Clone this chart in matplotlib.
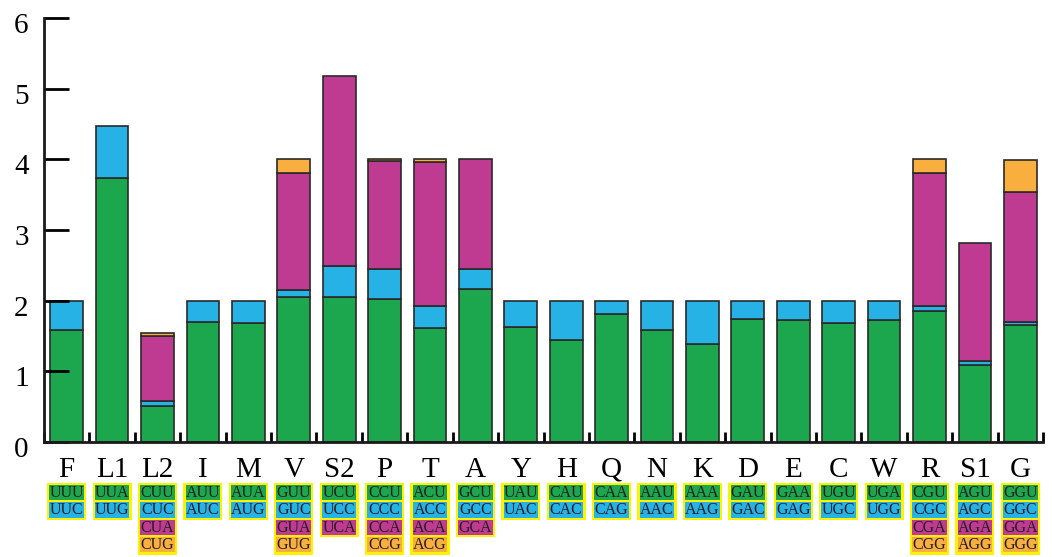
import numpy as np
import matplotlib.pyplot as plt
from matplotlib.patches import Rectangle
from matplotlib.transforms import blended_transform_factory, ScaledTranslation

plt.rcParams['font.family'] = ['Liberation Serif', 'DejaVu Serif']

amino = ['F', 'L1', 'L2', 'I', 'M', 'V', 'S2', 'P', 'T', 'A', 'Y', 'H',
         'Q', 'N', 'K', 'D', 'E', 'C', 'W', 'R', 'S1', 'G']

# stacked segments, one value per amino acid (bottom to top)
green = [1.59, 3.73, 0.51, 1.70, 1.69, 2.05, 2.05, 2.03, 1.62, 2.17, 1.63, 1.45,
         1.81, 1.58, 1.39, 1.74, 1.72, 1.69, 1.72, 1.86, 1.09, 1.65]
blue = [0.41, 0.74, 0.07, 0.30, 0.31, 0.10, 0.44, 0.42, 0.31, 0.28, 0.37, 0.55,
        0.19, 0.42, 0.61, 0.26, 0.28, 0.31, 0.28, 0.07, 0.06, 0.05]
magenta = [0, 0, 0.92, 0, 0, 1.65, 2.69, 1.52, 2.03, 1.55, 0, 0,
           0, 0, 0, 0, 0, 0, 0, 1.87, 1.67, 1.84]
orange = [0, 0, 0.04, 0, 0, 0.20, 0, 0.03, 0.04, 0, 0, 0,
          0, 0, 0, 0, 0, 0, 0, 0.20, 0, 0.45]

codons = [
    ['UUU', 'UUC'], ['UUA', 'UUG'], ['CUU', 'CUC', 'CUA', 'CUG'],
    ['AUU', 'AUC'], ['AUA', 'AUG'], ['GUU', 'GUC', 'GUA', 'GUG'],
    ['UCU', 'UCC', 'UCA'], ['CCU', 'CCC', 'CCA', 'CCG'],
    ['ACU', 'ACC', 'ACA', 'ACG'], ['GCU', 'GCC', 'GCA'],
    ['UAU', 'UAC'], ['CAU', 'CAC'], ['CAA', 'CAG'], ['AAU', 'AAC'],
    ['AAA', 'AAG'], ['GAU', 'GAC'], ['GAA', 'GAG'], ['UGU', 'UGC'],
    ['UGA', 'UGG'], ['CGU', 'CGC', 'CGA', 'CGG'],
    ['AGU', 'AGC', 'AGA', 'AGG'], ['GGU', 'GGC', 'GGA', 'GGG'],
]

colors = ['#1ca64d', '#27b2e6', '#bf3b91', '#f9ae40']
yellow = '#fff200'

W, H = 1052, 557
fig = plt.figure(figsize=(W / 100, H / 100), dpi=100)
ax = fig.add_axes([44 / W, 115 / H, 999 / W, 424 / H])

x = np.arange(len(amino))
bottom = np.zeros(len(amino))
for vals, col in zip([green, blue, magenta, orange], colors):
    vals = np.array(vals)
    m = vals > 0
    ax.bar(x[m], vals[m], 0.72, bottom=bottom[m], color=col,
           edgecolor='#2a2a2a', linewidth=1.2)
    bottom += vals

ax.set_xlim(-0.5, len(amino) - 0.5)
ax.set_ylim(0, 6)
ax.set_yticks(range(7))

ax.set_xticks(x)
ax.set_xticklabels(amino)
ax.set_xticks(np.arange(-0.5, len(amino), 1), minor=True)
ax.tick_params(axis='x', which='major', length=0, pad=10.5, labelsize=21)
ax.tick_params(axis='x', which='minor', direction='in', length=7, width=2)
ax.tick_params(axis='y', direction='in', length=18, width=2, labelsize=21, pad=11)
# the y numbers sit a little below their ticks in the original
shift = ScaledTranslation(0, -0.05, fig.dpi_scale_trans)
for lab in ax.get_yticklabels():
    lab.set_transform(lab.get_transform() + shift)

for s in ['top', 'right']:
    ax.spines[s].set_visible(False)
for s in ['left', 'bottom']:
    ax.spines[s].set_linewidth(2)
    ax.spines[s].set_color('#1a1a1a')

# codon boxes under the labels
trans = blended_transform_factory(ax.transData, fig.transFigure)
pitch, cell_h = 17.3, 15.2
for i, cods in enumerate(codons):
    n = len(cods)
    top = 482.5
    bot = 485 + (n - 1) * pitch + cell_h + 2.5
    ax.add_patch(Rectangle((i - 0.43, 1 - bot / H), 0.86, (bot - top) / H,
                           transform=trans, facecolor=yellow, edgecolor='none',
                           clip_on=False))
    for k, c in enumerate(cods):
        ct = 485 + k * pitch
        ax.add_patch(Rectangle((i - 0.38, 1 - (ct + cell_h) / H), 0.76, cell_h / H,
                               transform=trans, facecolor=colors[k],
                               edgecolor='none', clip_on=False))
        ax.text(i, 1 - (ct + cell_h / 2 + 0.5) / H, c, transform=trans,
                ha='center', va='center', fontsize=11.5, color='#231f20')

fig.savefig('out.png', dpi=100)
